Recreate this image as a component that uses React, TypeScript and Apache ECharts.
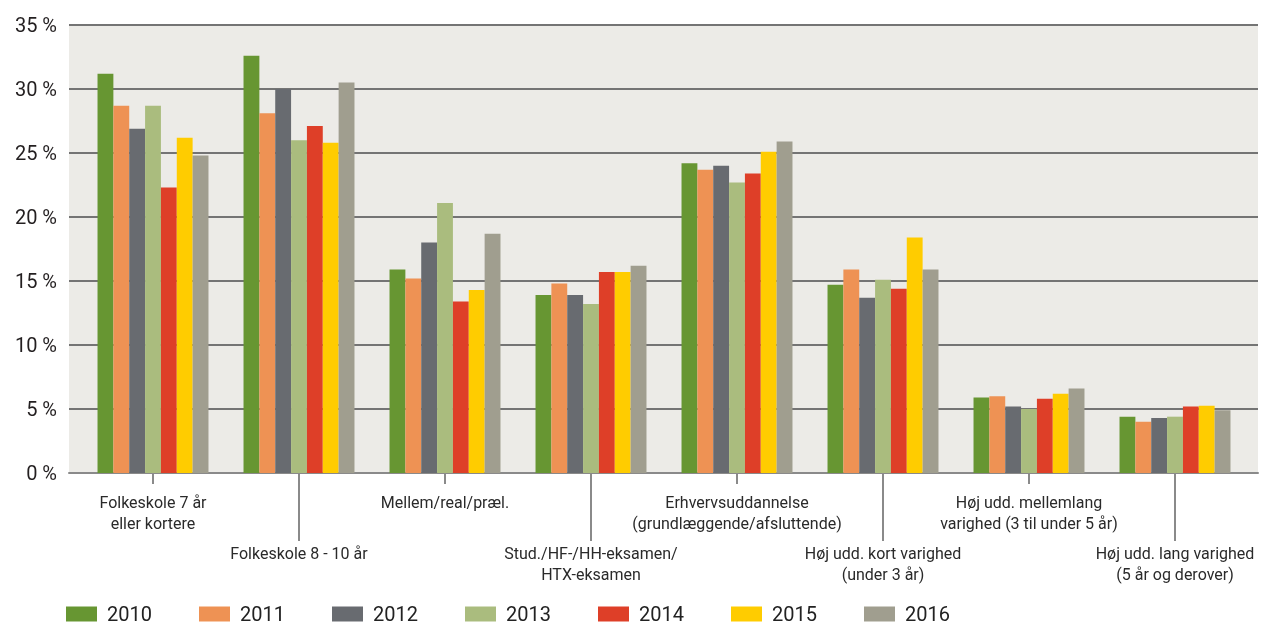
import React, { useEffect, useRef } from "react";
import * as echarts from "echarts";

const categories = [
  "Folkeskole 7 år\neller kortere",
  "Folkeskole 8 - 10 år",
  "Mellem/real/præl.",
  "Stud./HF-/HH-eksamen/\nHTX-eksamen",
  "Erhvervsuddannelse\n(grundlæggende/afsluttende)",
  "Høj udd. kort varighed\n(under 3 år)",
  "Høj udd. mellemlang\nvarighed (3 til under 5 år)",
  "Høj udd. lang varighed\n(5 år og derover)",
];

const years = ["2010", "2011", "2012", "2013", "2014", "2015", "2016"];

const v2010 = [31.2, 32.6, 15.9, 13.9, 24.2, 14.7, 5.9, 4.4];
const v2011 = [28.7, 28.1, 15.2, 14.8, 23.7, 15.9, 6.0, 4.0];
const v2012 = [26.9, 30.0, 18.0, 13.9, 24.0, 13.7, 5.2, 4.3];
const v2013 = [28.7, 26.0, 21.1, 13.2, 22.7, 15.1, 5.0, 4.4];
const v2014 = [22.3, 27.1, 13.4, 15.7, 23.4, 14.4, 5.8, 5.2];
const v2015 = [26.2, 25.8, 14.3, 15.7, 25.1, 18.4, 6.2, 5.25];
const v2016 = [24.8, 30.5, 18.7, 16.2, 25.9, 15.9, 6.6, 4.9];

const seriesValues = [v2010, v2011, v2012, v2013, v2014, v2015, v2016];
const colors = ["#679632", "#ee9254", "#686b70", "#aabc7e", "#de3f28", "#ffcc00", "#a09e8f"];

const yTicks = { min: 0, max: 35, interval: 5 };

const FONT = "Roboto, 'Noto Sans', sans-serif";

export default function App() {
  const ref = useRef<HTMLDivElement>(null);
  useEffect(() => {
    if (!ref.current) return;
    const chart = echarts.init(ref.current, undefined, { renderer: "svg" });
    const plotTop = 25;
    const plotBottom = 625 - 473;
    chart.setOption({
      animation: false,
      textStyle: { fontFamily: FONT },
      grid: [
        { left: 69, right: 3, top: plotTop, bottom: plotBottom, show: true, backgroundColor: "#ecebe7", borderWidth: 0 },
        { left: 80, right: 13, top: plotTop, bottom: plotBottom },
        { left: 80, right: 13, top: plotTop, bottom: plotBottom },
      ],
      xAxis: [
        {
          gridIndex: 0, type: "value", min: 0, max: 1,
          axisLine: { show: true, onZero: false, lineStyle: { color: "#8a8a8a", width: 2 } },
          axisTick: { show: false }, axisLabel: { show: false }, splitLine: { show: false },
        },
        {
          gridIndex: 1, type: "category", data: categories,
          axisLine: { show: false },
          axisTick: {
            show: true, alignWithLabel: true, length: 11,
            interval: (i: number) => i % 2 === 0,
            lineStyle: { color: "#8a8a8a", width: 2 },
          },
          axisLabel: {
            interval: (i: number) => i % 2 === 0,
            margin: 19, fontSize: 16, lineHeight: 21, color: "#2a2a2a", fontFamily: FONT,
          },
        },
        {
          gridIndex: 2, type: "category", data: categories,
          axisLine: { show: false },
          axisTick: {
            show: true, alignWithLabel: true, length: 68,
            interval: (i: number) => i % 2 === 1,
            lineStyle: { color: "#8a8a8a", width: 2 },
          },
          axisLabel: {
            interval: (i: number) => i % 2 === 1,
            margin: 70, fontSize: 16, lineHeight: 21, color: "#2a2a2a", fontFamily: FONT,
          },
        },
      ],
      yAxis: [
        {
          gridIndex: 0, type: "value", ...yTicks,
          axisLine: { show: false }, axisTick: { show: false },
          axisLabel: { formatter: "{value} %", fontSize: 20, color: "#231f20", margin: 12, fontFamily: FONT },
          splitLine: { show: true, lineStyle: { color: "#747474", width: 2 } },
        },
        { gridIndex: 1, type: "value", ...yTicks, show: false },
        { gridIndex: 2, type: "value", ...yTicks, show: false },
      ],
      legend: {
        data: years,
        left: 61, top: 602,
        padding: [2, 5, 2, 5],
        icon: "rect", itemWidth: 31, itemHeight: 15, itemGap: 42,
        textStyle: { fontSize: 20, lineHeight: 18, color: "#222", width: 50, padding: [0, 0, 0, 5], fontFamily: FONT },
      },
      series: years.map((y, k) => ({
        name: y, type: "bar", xAxisIndex: 1, yAxisIndex: 1,
        data: seriesValues[k],
        itemStyle: { color: colors[k] },
        barGap: "0%", barCategoryGap: "24%",
      })),
    });
    return () => chart.dispose();
  }, []);
  return <div ref={ref} style={{ position: "fixed", left: 0, top: 0, width: 1261, height: 625 }} />;
}
